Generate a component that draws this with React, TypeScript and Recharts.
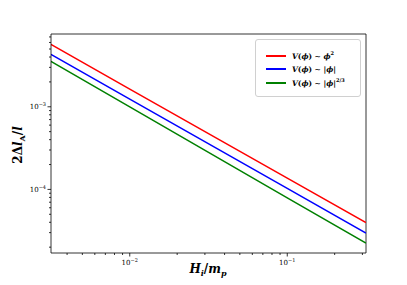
import React from "react"
import {
  LineChart,
  Line,
  XAxis,
  YAxis,
  ReferenceLine,
} from "recharts"

// values (log-log, straight lines)
const hValues = [0.00316, 0.01, 0.1, 0.316]
const quadratic = [5.7e-3, 1.64e-3, 1.37e-4, 3.98e-5]
const absolute = [4.3e-3, 1.24e-3, 1.03e-4, 2.97e-5]
const twoThirds = [3.54e-3, 1.0e-3, 7.9e-5, 2.24e-5]

const xMajor = [0.01, 0.1]
const xMinor = [0.004, 0.005, 0.006, 0.007, 0.008, 0.009, 0.02, 0.03, 0.04, 0.05, 0.06, 0.07, 0.08, 0.09, 0.2, 0.3]
const yMajor = [1e-4, 1e-3]
const yMinor = [2e-5, 3e-5, 4e-5, 5e-5, 6e-5, 7e-5, 8e-5, 9e-5, 2e-4, 3e-4, 4e-4, 5e-4, 6e-4, 7e-4, 8e-4, 9e-4, 2e-3, 3e-3, 4e-3, 5e-3, 6e-3, 7e-3]

const xDomain = [0.003162, 0.3162]
const yDomain = [1.7e-5, 7.6e-3]

const data = hValues.map((h, i) => ({
  h,
  quadratic: quadratic[i],
  absolute: absolute[i],
  twoThirds: twoThirds[i],
}))

const FONT = "'DejaVu Serif', serif"

function expLabel(v: number) {
  return Math.round(Math.log10(v))
}

function XTick({ x, y, payload }: any) {
  const major = xMajor.includes(payload.value)
  return (
    <g>
      <line x1={x} x2={x} y1={y} y2={y + (major ? 3.5 : 2)} stroke="#000" strokeWidth={0.8} />
      {major && (
        <text x={x} y={y + 12} textAnchor="middle" fontFamily={FONT} fontSize={7} fill="#000">
          <tspan>10</tspan>
          <tspan dy={-3} fontSize={5}>{"\u2212" + Math.abs(expLabel(payload.value))}</tspan>
        </text>
      )}
    </g>
  )
}

function YTick({ x, y, payload }: any) {
  const major = yMajor.includes(payload.value)
  return (
    <g>
      <line x1={x} x2={x - (major ? 3.5 : 2)} y1={y} y2={y} stroke="#000" strokeWidth={0.8} />
      {major && (
        <text x={x - 5} y={y + 2.5} textAnchor="end" fontFamily={FONT} fontSize={7} fill="#000">
          <tspan>10</tspan>
          <tspan dy={-3} fontSize={5}>{"\u2212" + Math.abs(expLabel(payload.value))}</tspan>
        </text>
      )}
    </g>
  )
}

const series = [
  { key: "quadratic", color: "#ff0000", label: (<><i>V</i>(<i>ϕ</i>) ∼ <i>ϕ</i><sup style={{ fontSize: 5 }}>2</sup></>) },
  { key: "absolute", color: "#0000ff", label: (<><i>V</i>(<i>ϕ</i>) ∼ |<i>ϕ</i>|</>) },
  { key: "twoThirds", color: "#008000", label: (<><i>V</i>(<i>ϕ</i>) ∼ |<i>ϕ</i>|<sup style={{ fontSize: 5 }}>2/3</sup></>) },
]

function LegendBox() {
  return (
    <div
      style={{
        position: "absolute",
        left: 255,
        top: 39,
        width: 106,
        height: 58,
        border: "1px solid #d0d0d0",
        borderRadius: 3,
        background: "#fff",
        boxSizing: "border-box",
        paddingTop: 9,
        fontFamily: FONT,
        fontWeight: "bold",
        fontSize: 7.5,
        lineHeight: 1,
        color: "#000",
      }}
    >
      {series.map((s) => (
        <div key={s.key} style={{ display: "flex", alignItems: "center", height: 13.5 }}>
          <span style={{ display: "inline-block", marginLeft: 10, width: 20, height: 2, background: s.color }} />
          <span style={{ marginLeft: 6, whiteSpace: "nowrap" }}>{s.label}</span>
        </div>
      ))}
    </div>
  )
}

export default function App() {
  return (
    <div style={{ position: "absolute", left: 0, top: 0, width: 407, height: 285, background: "#fff" }}>
      <LineChart width={407} height={285} data={data} margin={{ top: 34, right: 41, bottom: 0, left: 0 }}>
        <XAxis
          dataKey="h"
          type="number"
          scale="log"
          domain={xDomain}
          allowDataOverflow
          ticks={[...xMinor, ...xMajor].sort((a, b) => a - b)}
          interval={0}
          tick={<XTick />}
          tickSize={0}
          tickMargin={0}
          tickLine={false}
          axisLine={{ stroke: "#000", strokeWidth: 0.8 }}
          height={32}
        />
        <YAxis
          type="number"
          scale="log"
          domain={yDomain}
          allowDataOverflow
          ticks={[...yMinor, ...yMajor].sort((a, b) => a - b)}
          interval={0}
          tick={<YTick />}
          tickSize={0}
          tickMargin={0}
          tickLine={false}
          axisLine={{ stroke: "#000", strokeWidth: 0.8 }}
          width={51}
        />
        <ReferenceLine y={yDomain[1]} stroke="#000" strokeWidth={0.8} />
        <ReferenceLine x={xDomain[1]} stroke="#000" strokeWidth={0.8} />
        {series.map((s) => (
          <Line
            key={s.key}
            dataKey={s.key}
            stroke={s.color}
            strokeWidth={1.5}
            dot={false}
            type="linear"
            isAnimationActive={false}
          />
        ))}
      </LineChart>
      <LegendBox />
      <svg style={{ position: "absolute", left: 0, top: 0, pointerEvents: "none" }} width={407} height={285}>
        <text
          transform="translate(22,145) rotate(-90)"
          textAnchor="middle"
          fontFamily={FONT}
          fontWeight="bold"
          fontSize={12}
          fill="#000"
        >
          <tspan>2Δ</tspan>
          <tspan fontStyle="italic">l</tspan>
          <tspan fontSize={8} dy={3}>A</tspan>
          <tspan dy={-3}>/</tspan>
          <tspan fontStyle="italic">l</tspan>
        </text>
        <text x={208} y={273} textAnchor="middle" fontFamily={FONT} fontWeight="bold" fontSize={12} fill="#000">
          <tspan fontStyle="italic">H</tspan>
          <tspan fontSize={8} dy={3} fontStyle="italic">i</tspan>
          <tspan dy={-3}>/</tspan>
          <tspan fontStyle="italic">m</tspan>
          <tspan fontSize={8} dy={3} fontStyle="italic">p</tspan>
        </text>
      </svg>
    </div>
  )
}
